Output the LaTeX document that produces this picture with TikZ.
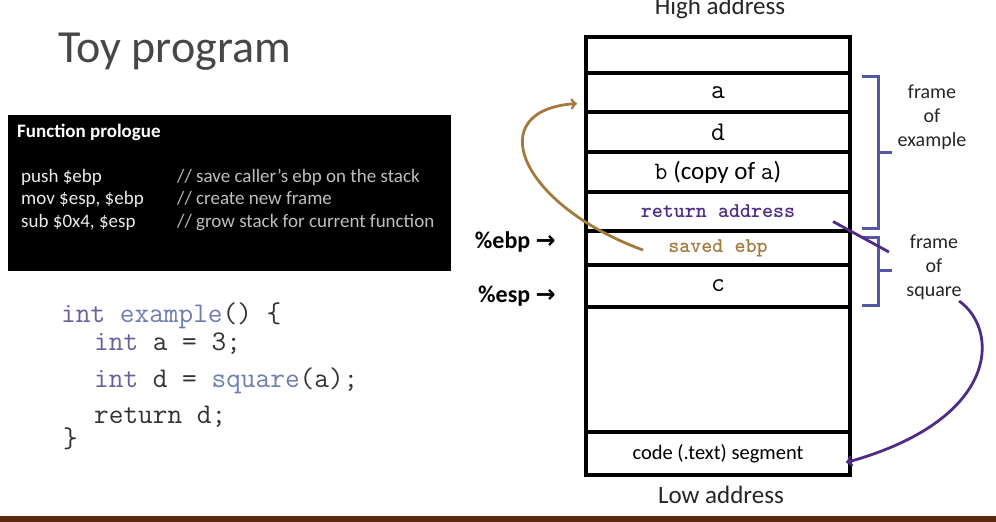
\documentclass[tikz,border=0pt]{standalone}
\usepackage{fontspec}
\setmainfont{Carlito}
\newfontfamily\arrowfont{DejaVu Sans}
\usepackage{xcolor}
\usetikzlibrary{positioning}

\definecolor{kwpurple}{HTML}{6A5F9C}
\definecolor{fnblue}{HTML}{6E7DB2}
\definecolor{retpurple}{HTML}{4E2C86}
\definecolor{ebpbrown}{HTML}{A47A3C}
\definecolor{bracketblue}{HTML}{5457A6}
\definecolor{barbrown}{HTML}{5C2A12}

\newcommand{\fsz}[1]{\fontsize{#1}{1.2\dimexpr#1pt\relax}\selectfont}

\begin{document}
\begin{tikzpicture}[x=1pt, y=-1pt,
    cell/.style = {draw, line width=3.2pt, minimum width=264pt, inner sep=0pt, outer sep=0pt, font=\ttfamily\fsz{27}},
    code/.style = {anchor=base west, inner sep=0pt, font=\ttfamily\fsz{28.5}, text=black!80},
    prolog/.style = {anchor=base west, inner sep=0pt, font=\fsz{19}, text=white!92!black},
    note/.style = {anchor=base west, inner sep=0pt, font=\fsz{19}, text=white!75!black},
    reg/.style = {font=\bfseries\fsz{24}, inner sep=0pt},
    bracket/.style = {draw=bracketblue, line width=3pt},
    framelabel/.style = {align=center, font=\fsz{20}, text=black!85}]
    \useasboundingbox (0,0) rectangle (996,522);
    \fill[white] (0,0) rectangle (996,522);
    \fill[barbrown] (0,516) rectangle (996,522);

    % title and prologue box
    \node[anchor=base west, inner sep=0pt, font=\fsz{46}, text=black!72] (title) at (58,62) {Toy program};
    \fill[black] (8,115) rectangle (451,271);
    \node[prolog, font=\bfseries\fsz{19}, text=white] (head) at (17,137) {Function prologue};
    \node[prolog] (push) at (21,182) {push \$ebp};
    \node[prolog] (mov) at (21,204) {mov \$esp, \$ebp};
    \node[prolog] (sub) at (21,227) {sub \$0x4, \$esp};
    \node[note] (n1) at (177,182) {// save caller’s ebp on the stack};
    \node[note] (n2) at (177,204) {// create new frame};
    \node[note] (n3) at (177,227) {// grow stack for current function};

    % C source
    \node[code] (l1) at (61,322) {\textcolor{kwpurple}{int} \textcolor{fnblue}{example}() \{};
    \node[code] (l2) at (94,350) {\textcolor{kwpurple}{int} a = 3;};
    \node[code] (l3) at (94,387) {\textcolor{kwpurple}{int} d = \textcolor{fnblue}{square}(a);};
    \node[code] (l4) at (94,423) {return d;};
    \node[code] (l5) at (63,447) {\}};

    % stack
    \node[cell, minimum height=36pt] (top) at (718,55) {};
    \node[cell, minimum height=39pt, below=0pt of top] (a) {a};
    \node[cell, minimum height=40pt, below=0pt of a] (d) {d};
    \node[cell, minimum height=40pt, below=0pt of d, font=\ttfamily\fsz{25}] (b) {b{\rmfamily\ (copy of }a{\rmfamily)}};
    \node[cell, minimum height=39pt, below=0pt of b, font=\ttfamily\bfseries\fsz{21}, text=retpurple] (ret) {return address};
    \node[cell, minimum height=34pt, below=0pt of ret, font=\ttfamily\bfseries\fsz{21}, text=ebpbrown] (saved) {saved ebp};
    \node[cell, minimum height=42pt, below=0pt of saved] (c) {c};
    \node[cell, minimum height=125pt, below=0pt of c] (free) {};
    \node[cell, minimum height=43pt, below=0pt of free, font=\rmfamily\fsz{20.5}] (seg) {code (.text) segment};

    \node[anchor=base, inner sep=0pt, font=\fsz{25}, text=black!85] (high) at (720,14) {High address};
    \node[anchor=base, inner sep=0pt, font=\fsz{25}, text=black!85] (low) at (721,503) {Low address};

    \node[reg, left=30pt of saved, yshift=6pt] (ebp) {\%ebp {\arrowfont\bfseries→}};
    \node[reg, left=30pt of c, yshift=-10pt] (esp) {\%esp {\arrowfont\bfseries→}};

    % frames
    \draw[bracket] (862,76) -| (878,228) -- (862,228);
    \draw[bracket] (878,152) -- (892,152);
    \draw[bracket] (862,237) -| (878,305) -- (862,305);
    \draw[bracket] (878,270) -- (892,270);
    \node[framelabel] (exlabel) at (932,117) {frame\\of\\example};
    \node[framelabel] (sqlabel) at (934,267) {frame\\of\\square};

    \draw[ebpbrown, line width=2.8pt, ->] ([xshift=-75pt, yshift=-2pt]saved.center) .. controls (520,205) and (480,110) .. ([xshift=-9pt, yshift=-11pt]a.west);
    \draw[retpurple, line width=2.8pt] ([xshift=115pt, yshift=-10pt]ret.center) -- ([xshift=-14pt, yshift=15pt]sqlabel.west);
    \draw[retpurple, line width=2.8pt, ->] ([xshift=-6pt, yshift=2pt]sqlabel.south east) .. controls (1000,330) and (1000,420) .. ([xshift=-4pt, yshift=-9pt]seg.east);
\end{tikzpicture}
\end{document}
